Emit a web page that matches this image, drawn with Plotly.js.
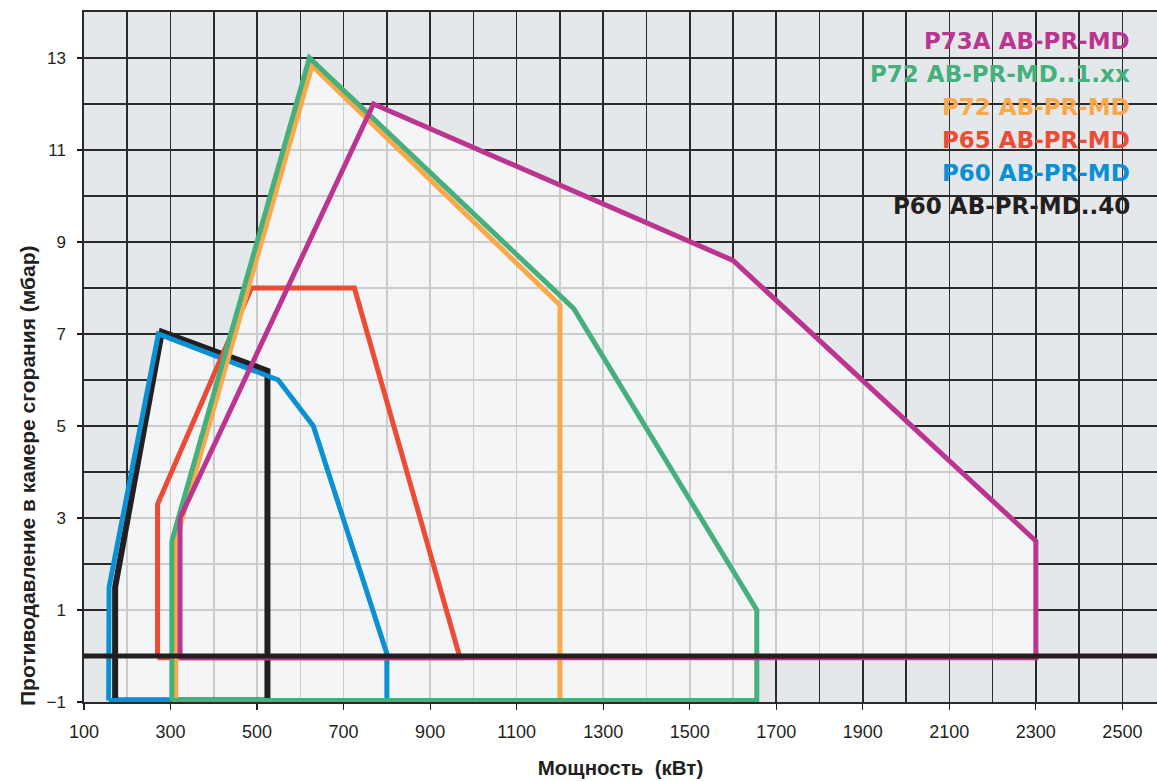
<!DOCTYPE html>
<html>
<head>
<meta charset="utf-8">
<script src="https://cdn.plot.ly/plotly-3.0.1.min.js"></script>
<style>
  html, body { margin: 0; padding: 0; background: #ffffff; }
  #chart { width: 1157px; height: 781px; }
</style>
</head>
<body>
<div id="chart"></div>
<script>
// ---------------- DATA ----------------
const seriesNames = ['P73A AB-PR-MD', 'P72 AB-PR-MD..1.xx', 'P72 AB-PR-MD', 'P65 AB-PR-MD', 'P60 AB-PR-MD', 'P60 AB-PR-MD..40'];
const seriesColors = ['#bb3590', '#45b07c', '#faa94a', '#ee4b37', '#0b90d4', '#231f20'];

// working-field outlines: power (kW) and back pressure (mbar)
const p73aX   = [322, 322, 769, 1600, 2300, 2300, 322];
const p73aY   = [-0.04, 3, 12, 8.6, 2.5, -0.04, -0.04];
const p72xxX  = [303, 303, 621, 1232, 1655, 1655, 303];
const p72xxY  = [-0.97, 2.5, 13, 7.55, 1, -0.97, -0.97];
const p72X    = [312, 312, 627, 1200, 1200, 312];
const p72Y    = [-0.97, 2.5, 12.83, 7.63, -0.97, -0.97];
const p65X    = [270, 270, 487, 725, 969, 270];
const p65Y    = [-0.04, 3.3, 8, 8, -0.04, -0.04];
const p60X    = [157, 158, 272, 549, 630, 800, 800, 157];
const p60Y    = [-0.97, 1.5, 7, 6, 5, 0.05, -0.97, -0.97];
const p6040X  = [172, 172, 280, 524, 524, 172];
const p6040Y  = [-0.97, 1.5, 7.05, 6.2, -0.97, -0.97];

const seriesX = [p73aX, p72xxX, p72X, p65X, p60X, p6040X];
const seriesY = [p73aY, p72xxY, p72Y, p65Y, p60Y, p6040Y];

// axes
const xRange = [100, 2580];
const yRange = [-1, 14];
const xTick0 = 100, xTickStep = 200, xGridStep = 100;
const yTick0 = -1, yTickStep = 2, yGridStep = 1;
const referenceLineY = 0;
const xTitleText = 'Мощность\u00a0 (кВт)';
const yTitleText = 'Противодавление в камере сгорания (мбар)';

// ---------------- STYLE ----------------
const darkGrid = '#2a2a2a';
const outsideBg = '#e4e8eb';
const textColor = '#231f20';

// ---------------- TRACES ----------------
function signedArea(xs, ys) {
  let a = 0;
  for (let i = 0; i < xs.length - 1; i++) a += xs[i] * ys[i + 1] - xs[i + 1] * ys[i];
  return a / 2;
}

// union shading: all outlines in one path (same winding -> nonzero rule gives the union)
const unionX = [], unionY = [];
seriesX.forEach((xs, i) => {
  let px = xs.slice(), py = seriesY[i].slice();
  if (signedArea(px, py) < 0) { px.reverse(); py.reverse(); }
  if (unionX.length) { unionX.push(null); unionY.push(null); }
  unionX.push(...px); unionY.push(...py);
});

const traces = [{
  x: unionX, y: unionY, type: 'scatter', mode: 'lines',
  fill: 'toself', fillcolor: 'rgba(248,249,248,0.785)',
  line: { width: 0 }, hoverinfo: 'skip', showlegend: false
}];

// draw from bottom (last in legend) to top (first in legend)
for (let i = seriesNames.length - 1; i >= 0; i--) {
  traces.push({
    x: seriesX[i], y: seriesY[i], type: 'scatter', mode: 'lines',
    name: seriesNames[i],
    line: { color: seriesColors[i], width: i === seriesNames.length - 1 ? 6 : 5, simplify: false },
    showlegend: false
  });
}

// ---------------- ANNOTATIONS (legend text + y title) ----------------
const plotTop = 12, plotH = 690, plotLeft = 84, plotW = 1073;
const pyToPaper = py => 1 - (py - plotTop) / plotH;
const pxToPaper = px => (px - plotLeft) / plotW;

const annotations = seriesNames.map((name, i) => ({
  text: name, xref: 'paper', yref: 'paper',
  x: pxToPaper(1132), y: pyToPaper(41 + i * 32.9),
  xanchor: 'right', yanchor: 'middle', showarrow: false,
  font: { family: 'DejaVu Sans', size: 23, color: seriesColors[i], weight: 'bold' }
}));

annotations.push({
  text: yTitleText, xref: 'paper', yref: 'paper',
  x: pxToPaper(27), y: pyToPaper(476), textangle: -90,
  xanchor: 'center', yanchor: 'middle', showarrow: false,
  font: { family: 'Liberation Sans', size: 21, color: textColor, weight: 'bold' }
});

const layout = {
  width: 1157, height: 781,
  margin: { l: plotLeft, r: 1157 - plotLeft - plotW, t: plotTop, b: 781 - plotTop - plotH },
  paper_bgcolor: '#ffffff',
  plot_bgcolor: outsideBg,
  showlegend: false,
  xaxis: {
    range: xRange, tickmode: 'linear', tick0: xTick0, dtick: xTickStep,
    showgrid: true, gridcolor: darkGrid, gridwidth: 1.6,
    minor: { tick0: xTick0, dtick: xGridStep, showgrid: true, gridcolor: darkGrid, gridwidth: 1.6, ticks: '' },
    ticks: 'outside', ticklen: 6, tickwidth: 1.2, tickcolor: textColor,
    ticklabelstandoff: 7,
    tickfont: { family: 'Liberation Sans', size: 18, color: textColor },
    showline: true, mirror: true, linecolor: darkGrid, linewidth: 1.6,
    zeroline: false, layer: 'below traces', fixedrange: true,
    title: { text: xTitleText, standoff: 19, font: { family: 'Liberation Sans', size: 20.5, color: textColor, weight: 'bold' } }
  },
  yaxis: {
    range: yRange, tickmode: 'linear', tick0: yTick0, dtick: yTickStep,
    showgrid: true, gridcolor: darkGrid, gridwidth: 1.6,
    minor: { tick0: yTick0, dtick: yGridStep, showgrid: true, gridcolor: darkGrid, gridwidth: 1.6, ticks: '' },
    ticks: 'outside', ticklen: 5, tickwidth: 1.2, tickcolor: textColor,
    ticklabelstandoff: 8,
    tickfont: { family: 'Liberation Sans', size: 17, color: textColor },
    showline: true, mirror: true, linecolor: darkGrid, linewidth: 1.6,
    zeroline: false, layer: 'below traces', fixedrange: true
  },
  shapes: [{
    type: 'line', xref: 'paper', x0: 0, x1: 1, yref: 'y', y0: referenceLineY, y1: referenceLineY,
    line: { color: textColor, width: 5 }, layer: 'above'
  }],
  annotations: annotations
};

Plotly.newPlot('chart', traces, layout, { displayModeBar: false, staticPlot: true });
</script>
</body>
</html>
